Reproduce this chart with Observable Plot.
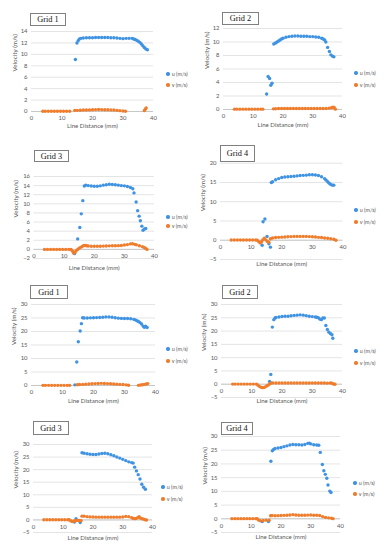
<!DOCTYPE html>
<html><head><meta charset="utf-8">
<script src="https://cdn.jsdelivr.net/npm/d3@7"></script>
<script src="https://cdn.jsdelivr.net/npm/@observablehq/plot@0.6"></script>
<style>
body{margin:0;background:#fff;}
#root{position:relative;width:386px;height:550px;overflow:hidden;background:#fff;font-family:Lato,"Open Sans",sans-serif;}
.panel{position:absolute;}
.panel svg{overflow:visible;}
.gbox{position:absolute;border:1px solid #808080;font-family:"Liberation Serif",serif;font-size:8.3px;display:flex;align-items:center;justify-content:center;background:#fff;box-sizing:border-box;color:#111;}
.leg{position:absolute;font-size:5.4px;color:#595959;white-space:nowrap;display:flex;align-items:center;height:6px;}
.leg .dot{display:inline-block;width:3.4px;height:3.4px;border-radius:50%;margin-right:2px;}
</style></head>
<body><div id="root"></div>
<script>
// ---------- data ----------
const titles = ["Grid 1","Grid 2","Grid 3","Grid 4","Grid 1","Grid 2","Grid 3","Grid 4"];
const seriesNames = ["u (m/s)","v (m/s)"];
const xLabel = "Line Distance (mm)";
const yLabel = "Velocity (m/s)";
const xTicks = [0,10,20,30,40];
const yDomains = [[0,14],[0,12],[-2,16],[-5,20],[0,30],[-5,30],[-5,30],[-5,30]];
const yTickSets = [
  [0,2,4,6,8,10,12,14],
  [0,2,4,6,8,10,12],
  [-2,0,2,4,6,8,10,12,14,16],
  [-5,0,5,10,15,20],
  [0,5,10,15,20,25,30],
  [-5,0,5,10,15,20,25,30],
  [-5,0,5,10,15,20,25,30],
  [-5,0,5,10,15,20,25,30]
];

const u1 = [[14.4,9.1],[14.9,12.0],[15.3,12.4],[15.7,12.7],[16.2,12.8],[17,12.85],[18,12.9],[19,12.9],[20,12.9],[21,12.95],[22,12.95],[23,12.95],[24,12.95],[25,12.95],[26,12.9],[27,12.9],[28,12.85],[29,12.8],[30,12.75],[31,12.8],[32,12.8],[33,12.8],[33.5,12.7],[34,12.6],[34.5,12.45],[35,12.3],[35.5,12.1],[36,11.8],[36.5,11.5],[37,11.2],[37.5,10.95],[38,10.8]];
const v1 = [[3.7,0.05],[4.5,0.05],[5.5,0.05],[6.5,0.05],[7.5,0.05],[8.5,0.05],[9.5,0.05],[10.5,0.05],[11.5,0.05],[12.5,0.05],[14.2,0.2],[15,0.2],[16,0.22],[17,0.25],[18,0.25],[19,0.28],[20,0.3],[21,0.33],[22,0.35],[23,0.33],[24,0.3],[25,0.3],[26,0.28],[27,0.25],[28,0.2],[29,0.15],[30,0.1],[30.8,0.05],[37,0.15],[37.3,0.4],[37.6,0.6]];

const u2 = [[14.5,2.3],[15.0,4.9],[15.5,4.6],[15.9,3.6],[16.3,3.9],[16.9,9.7],[17.5,9.85],[18,10.0],[18.5,10.15],[19,10.3],[19.5,10.45],[20,10.55],[21,10.7],[22,10.8],[23,10.85],[24,10.9],[25,10.9],[26,10.85],[27,10.85],[28,10.85],[29,10.8],[30,10.8],[31,10.75],[32,10.7],[33,10.55],[33.5,10.45],[34,10.3],[34.4,10.0],[35.0,9.2],[35.6,8.6],[36.1,8.1],[36.7,7.9],[37.1,7.8]];
const v2 = [[3.7,0.05],[4.5,0.05],[5.5,0.05],[6.5,0.05],[7.5,0.05],[8.5,0.05],[9.5,0.05],[10.5,0.05],[11.5,0.05],[12.5,0.05],[13.2,0.05],[16.8,0.1],[17.5,0.12],[18.5,0.15],[19.5,0.15],[20.5,0.15],[21.5,0.15],[22.5,0.15],[23.5,0.15],[24.5,0.15],[25.5,0.15],[26.5,0.15],[27.5,0.15],[28.5,0.15],[29.5,0.15],[30.5,0.15],[31.5,0.15],[32.5,0.15],[33.5,0.15],[34.5,0.15],[35.5,0.2],[36.3,0.25],[36.8,0.35],[37.2,0.3],[37.6,0.05]];

const u3 = [[13.5,-0.9],[14.5,2.3],[15.2,4.8],[15.7,7.8],[16.2,10.7],[16.7,13.9],[17.2,14.1],[18,14.0],[19,13.9],[20,13.85],[21,13.85],[22,13.95],[23,14.1],[24,14.2],[25,14.3],[26,14.25],[27,14.2],[28,14.1],[29,14.0],[30,13.95],[31,13.8],[32,13.6],[32.8,13.3],[33.2,12.4],[33.9,10.4],[34.4,8.5],[34.9,7.3],[35.3,6.3],[35.8,5.1],[36.2,4.2],[36.7,4.5],[37.1,4.6]];
const v3 = [[3.5,0],[4.5,0],[5.5,0],[6.5,0],[7.5,0],[8.5,0],[9.5,0],[10.5,0],[11.5,0],[12.3,0],[12.8,-0.4],[13.2,-0.85],[13.6,-0.6],[14,-0.3],[14.5,0.0],[15,0.25],[15.5,0.45],[16,0.65],[16.5,0.85],[17,0.85],[17.5,0.8],[18,0.75],[19,0.7],[20,0.7],[21,0.7],[22,0.7],[23,0.72],[24,0.75],[25,0.78],[26,0.8],[27,0.8],[28,0.82],[29,0.85],[30,0.95],[31,1.05],[32,1.2],[32.7,1.25],[33.5,1.1],[34,1.0],[35,0.8],[36,0.6],[36.5,0.45],[37,0.25],[37.5,0.0]];

const u4 = [[13.6,-1.3],[13.9,4.8],[14.5,5.5],[15.2,1.0],[15.8,-0.9],[16.3,-1.8],[16.6,15.0],[17,15.2],[18,15.7],[19,16.0],[20,16.3],[21,16.4],[22,16.5],[23,16.55],[24,16.6],[25,16.7],[26,16.8],[27,16.85],[28,16.9],[29,17.0],[30,17.0],[31,16.95],[32,16.8],[33,16.5],[34,16.0],[34.5,15.6],[35,15.2],[35.5,14.8],[36,14.5],[36.5,14.3],[37,14.3]];
const v4 = [[3.5,0.05],[4.5,0.05],[5.5,0.05],[6.5,0.05],[7.5,0.05],[8.5,0.05],[9.5,0.05],[10.5,0.05],[11.5,0.05],[12,0.0],[12.5,-0.4],[13,-0.7],[13.4,-0.4],[13.8,0.1],[14.3,0.5],[14.8,0.1],[15.3,-0.3],[15.8,-0.5],[16.3,0.4],[17,0.6],[18,0.7],[19,0.75],[20,0.8],[21,0.85],[22,0.9],[23,0.95],[24,1.0],[25,1.0],[26,1.0],[27,1.0],[28,1.0],[29,0.95],[30,0.9],[31,0.85],[32,0.75],[33,0.7],[34,0.6],[35,0.5],[36,0.4],[37,0.25],[37.7,0.0]];

const u5 = [[14.0,0.25],[14.6,8.7],[15.1,16.2],[15.7,20.2],[16.1,22.9],[16.5,25.1],[17,25.0],[18,25.0],[19,25.05],[20,25.1],[21,25.15],[22,25.2],[23,25.3],[24,25.4],[25,25.4],[26,25.3],[27,25.1],[28,24.95],[29,24.85],[30,24.8],[31,24.8],[32,24.75],[33,24.5],[33.5,24.3],[34,24.0],[34.5,23.7],[35,23.3],[35.5,22.8],[36,22.0],[36.4,21.6],[36.8,22.0],[37.3,21.5]];
const v5 = [[3.7,0.05],[4.5,0.05],[5.5,0.05],[6.5,0.05],[7.5,0.05],[8.5,0.05],[9.5,0.05],[10.5,0.05],[11.5,0.05],[12.3,0.05],[14.8,0.3],[15.5,0.35],[16.5,0.4],[17.5,0.5],[18.5,0.55],[19.5,0.65],[20.5,0.7],[21.5,0.75],[22.5,0.8],[23.5,0.75],[24.5,0.7],[25.5,0.65],[26.5,0.55],[27.5,0.5],[28.5,0.4],[29.5,0.35],[30.5,0.25],[31.3,0.1],[34.5,0.05],[35.2,0.2],[35.8,0.3],[36.4,0.4],[37,0.55],[37.5,0.7]];

const u6 = [[15.9,1.0],[16.3,3.7],[16.8,21.5],[17.3,24.3],[17.7,24.9],[18,25.1],[19,25.3],[20,25.5],[21,25.55],[22,25.6],[23,25.75],[24,25.9],[25,26.0],[26,26.1],[27,26.0],[28,25.8],[29,25.6],[30,25.45],[31,25.3],[31.5,25.2],[32,25.0],[32.5,24.5],[33,24.3],[33.5,24.9],[34,24.9],[34.5,22.1],[35.0,20.6],[35.5,19.6],[36.0,19.1],[36.5,18.6],[36.8,17.3]];
const v6 = [[3.7,0.05],[4.5,0.05],[5.5,0.05],[6.5,0.05],[7.5,0.05],[8.5,0.05],[9.5,0.05],[10.5,0.05],[11.5,0.05],[12,-0.3],[12.5,-0.8],[13,-1.1],[13.5,-1.3],[14,-1.25],[14.5,-1.0],[15,-0.6],[15.5,-0.3],[16,0.2],[16.5,0.45],[17,0.5],[18,0.45],[19,0.45],[20,0.45],[21,0.45],[22,0.45],[23,0.45],[24,0.45],[25,0.45],[26,0.45],[27,0.45],[28,0.45],[29,0.45],[30,0.45],[31,0.45],[32,0.45],[33,0.45],[34,0.45],[35,0.4],[36,0.5],[36.5,0.35],[37,0.1],[37.5,0.0]];

const u7 = [[13.8,-0.8],[14.3,0.5],[15.7,-1.0],[16.3,26.7],[17,26.5],[18,26.3],[19,26.1],[20,26.0],[21,26.0],[22,26.2],[23,26.4],[24,26.5],[25,26.3],[26,25.9],[27,25.5],[28,25.0],[29,24.6],[30,24.1],[31,23.6],[32,23.1],[33,22.8],[33.5,22.6],[34,21.0],[34.6,19.5],[35.2,18.0],[35.8,16.3],[36.4,14.2],[37,13.0],[37.6,12.2]];
const v7 = [[3.5,0.1],[4.5,0.1],[5.5,0.1],[6.5,0.1],[7.5,0.1],[8.5,0.1],[9.5,0.1],[10.5,0.1],[11.5,0.1],[12,0.1],[12.5,-0.3],[13,-0.6],[13.5,-0.5],[14,-0.3],[14.5,-0.2],[15,-0.2],[15.5,-0.2],[16,-0.3],[16.3,1.5],[17,1.5],[18,1.3],[19,1.2],[20,1.15],[21,1.1],[22,1.1],[23,1.1],[24,1.1],[25,1.1],[26,1.1],[27,1.1],[28,1.1],[29,1.1],[30,1.15],[31,1.4],[32,1.3],[33,0.9],[33.5,0.6],[34,0.5],[34.5,0.6],[35,0.9],[35.5,1.3],[36,0.7],[36.5,0.5],[37,0.3],[37.5,0.1],[38,0.0]];

const u8 = [[13.7,-1.0],[15.8,-1.0],[16.6,21.0],[17.1,24.8],[17.5,25.3],[18,25.6],[19,25.8],[20,26.0],[21,26.3],[22,26.6],[23,26.9],[24,27.1],[25,27.0],[26,27.0],[27,26.9],[28,27.1],[29,27.5],[29.5,27.6],[30,27.3],[31,27.0],[32,26.9],[32.7,26.8],[33.2,24.2],[33.9,19.8],[34.4,17.5],[34.9,16.2],[35.4,14.8],[35.8,12.3],[36.4,10.1],[36.8,9.6]];
const v8 = [[3.5,0.05],[4.5,0.05],[5.5,0.05],[6.5,0.05],[7.5,0.05],[8.5,0.05],[9.5,0.05],[10.5,0.05],[11.5,0.05],[12,0.05],[12.5,-0.5],[13,-0.7],[14,-0.6],[15,-0.5],[16,-0.5],[16.5,1.1],[17,1.2],[18,1.1],[19,1.15],[20,1.2],[21,1.25],[22,1.3],[23,1.4],[24,1.5],[25,1.4],[26,1.3],[27,1.3],[28,1.3],[29,1.35],[30,1.4],[31,1.3],[32,1.3],[33,1.2],[34,0.8],[35,0.5],[36,0.35],[37,0.2],[37.5,0.05]];

const U = [u1,u2,u3,u4,u5,u6,u7,u8];
const V = [v1,v2,v3,v4,v5,v6,v7,v8];

// ---------- layout (page pixel positions) ----------
const layout = [
 {l:0,  t:0,  h:137,x0:31,  x1:153,  yT:31,   yB:111,tY:127,yl:14, box:[30,13,36,13], leg:[168,74,85]},
 {l:193,t:0,  h:137,x0:223, x1:342,  yT:28,   yB:109,tY:126,yl:206,box:[222,12,37,13],leg:[356,73,85]},
 {l:0,  t:137,h:138,x0:33.5,x1:154,  yT:176,  yB:258,tY:269,yl:15, box:[34,150,35,12],leg:[168,217,226]},
 {l:193,t:137,h:138,x0:220, x1:342.5,yT:162.7,yB:259,tY:265,yl:202,box:[220,145,35,17],leg:[356,210,222]},
 {l:0,  t:275,h:137,x0:31,  x1:155,  yT:304,  yB:385,tY:402,yl:13, box:[30,285,38,14],leg:[168,349,361]},
 {l:193,t:275,h:137,x0:221, x1:342,  yT:304,  yB:397,tY:402,yl:203,box:[222,285,36,14],leg:[356,351,363]},
 {l:0,  t:412,h:138,x0:33,  x1:152,  yT:444,  yB:532,tY:539,yl:15, box:[33,421,36,14],leg:[163,487,499]},
 {l:193,t:412,h:138,x0:221, x1:340,  yT:436,  yB:532,tY:538,yl:204,box:[221,422,32,13],leg:[355,483,494]}
];
const blue = "#3f93e2", orange = "#f07d2c", gray = "#595959";
const root = document.getElementById("root");

layout.forEach((c, i) => {
  const W = 193;
  const chart = Plot.plot({
    width: W, height: c.h,
    marginLeft: c.x0 - c.l, marginRight: c.l + W - c.x1,
    marginTop: c.yT - c.t, marginBottom: c.t + c.h - c.yB,
    x: {domain: [0, 40], axis: null},
    y: {domain: yDomains[i], axis: null},
    style: {fontFamily: "Lato, sans-serif", background: "transparent", color: gray, overflow: "visible"},
    marks: [
      Plot.gridY(yTickSets[i], {stroke: "#d9d9d9", strokeOpacity: 1, strokeWidth: 0.7}),
      Plot.ruleY([0], {stroke: "#bfbfbf", strokeWidth: 0.8}),
      Plot.axisY({ticks: yTickSets[i], tickSize: 0, tickPadding: 4, fontSize: 5.9, label: null}),
      Plot.text(xTicks, {x: d => d, y: () => 0, dy: 7, fontSize: 5.9, fill: gray}),
      Plot.text([xLabel], {frameAnchor: "bottom", dy: c.tY - c.yB, fontSize: 6.1, fill: gray}),
      Plot.text([yLabel], {frameAnchor: "left", dx: c.yl - c.x0, rotate: -90, fontSize: 6.3, fill: gray}),
      Plot.dot(U[i], {x: d => d[0], y: d => d[1], r: 1.7, fill: blue, stroke: null}),
      Plot.dot(V[i], {x: d => d[0], y: d => d[1], r: 1.7, fill: orange, stroke: null})
    ]
  });
  const wrap = document.createElement("div");
  wrap.className = "panel";
  wrap.style.left = c.l + "px";
  wrap.style.top = c.t + "px";
  wrap.appendChild(chart);
  root.appendChild(wrap);

  const b = document.createElement("div");
  b.className = "gbox";
  b.style.left = c.box[0] + "px"; b.style.top = c.box[1] + "px";
  b.style.width = c.box[2] + "px"; b.style.height = c.box[3] + "px";
  b.textContent = titles[i];
  root.appendChild(b);

  [[blue, seriesNames[0], c.leg[1]], [orange, seriesNames[1], c.leg[2]]].forEach(([col, name, y]) => {
    const d = document.createElement("div");
    d.className = "leg";
    d.style.left = (c.leg[0] - 1.7) + "px";
    d.style.top = (y - 3) + "px";
    const s = document.createElement("span");
    s.className = "dot"; s.style.background = col;
    d.appendChild(s);
    d.appendChild(document.createTextNode(name));
    root.appendChild(d);
  });
});
</script>
</body></html>
